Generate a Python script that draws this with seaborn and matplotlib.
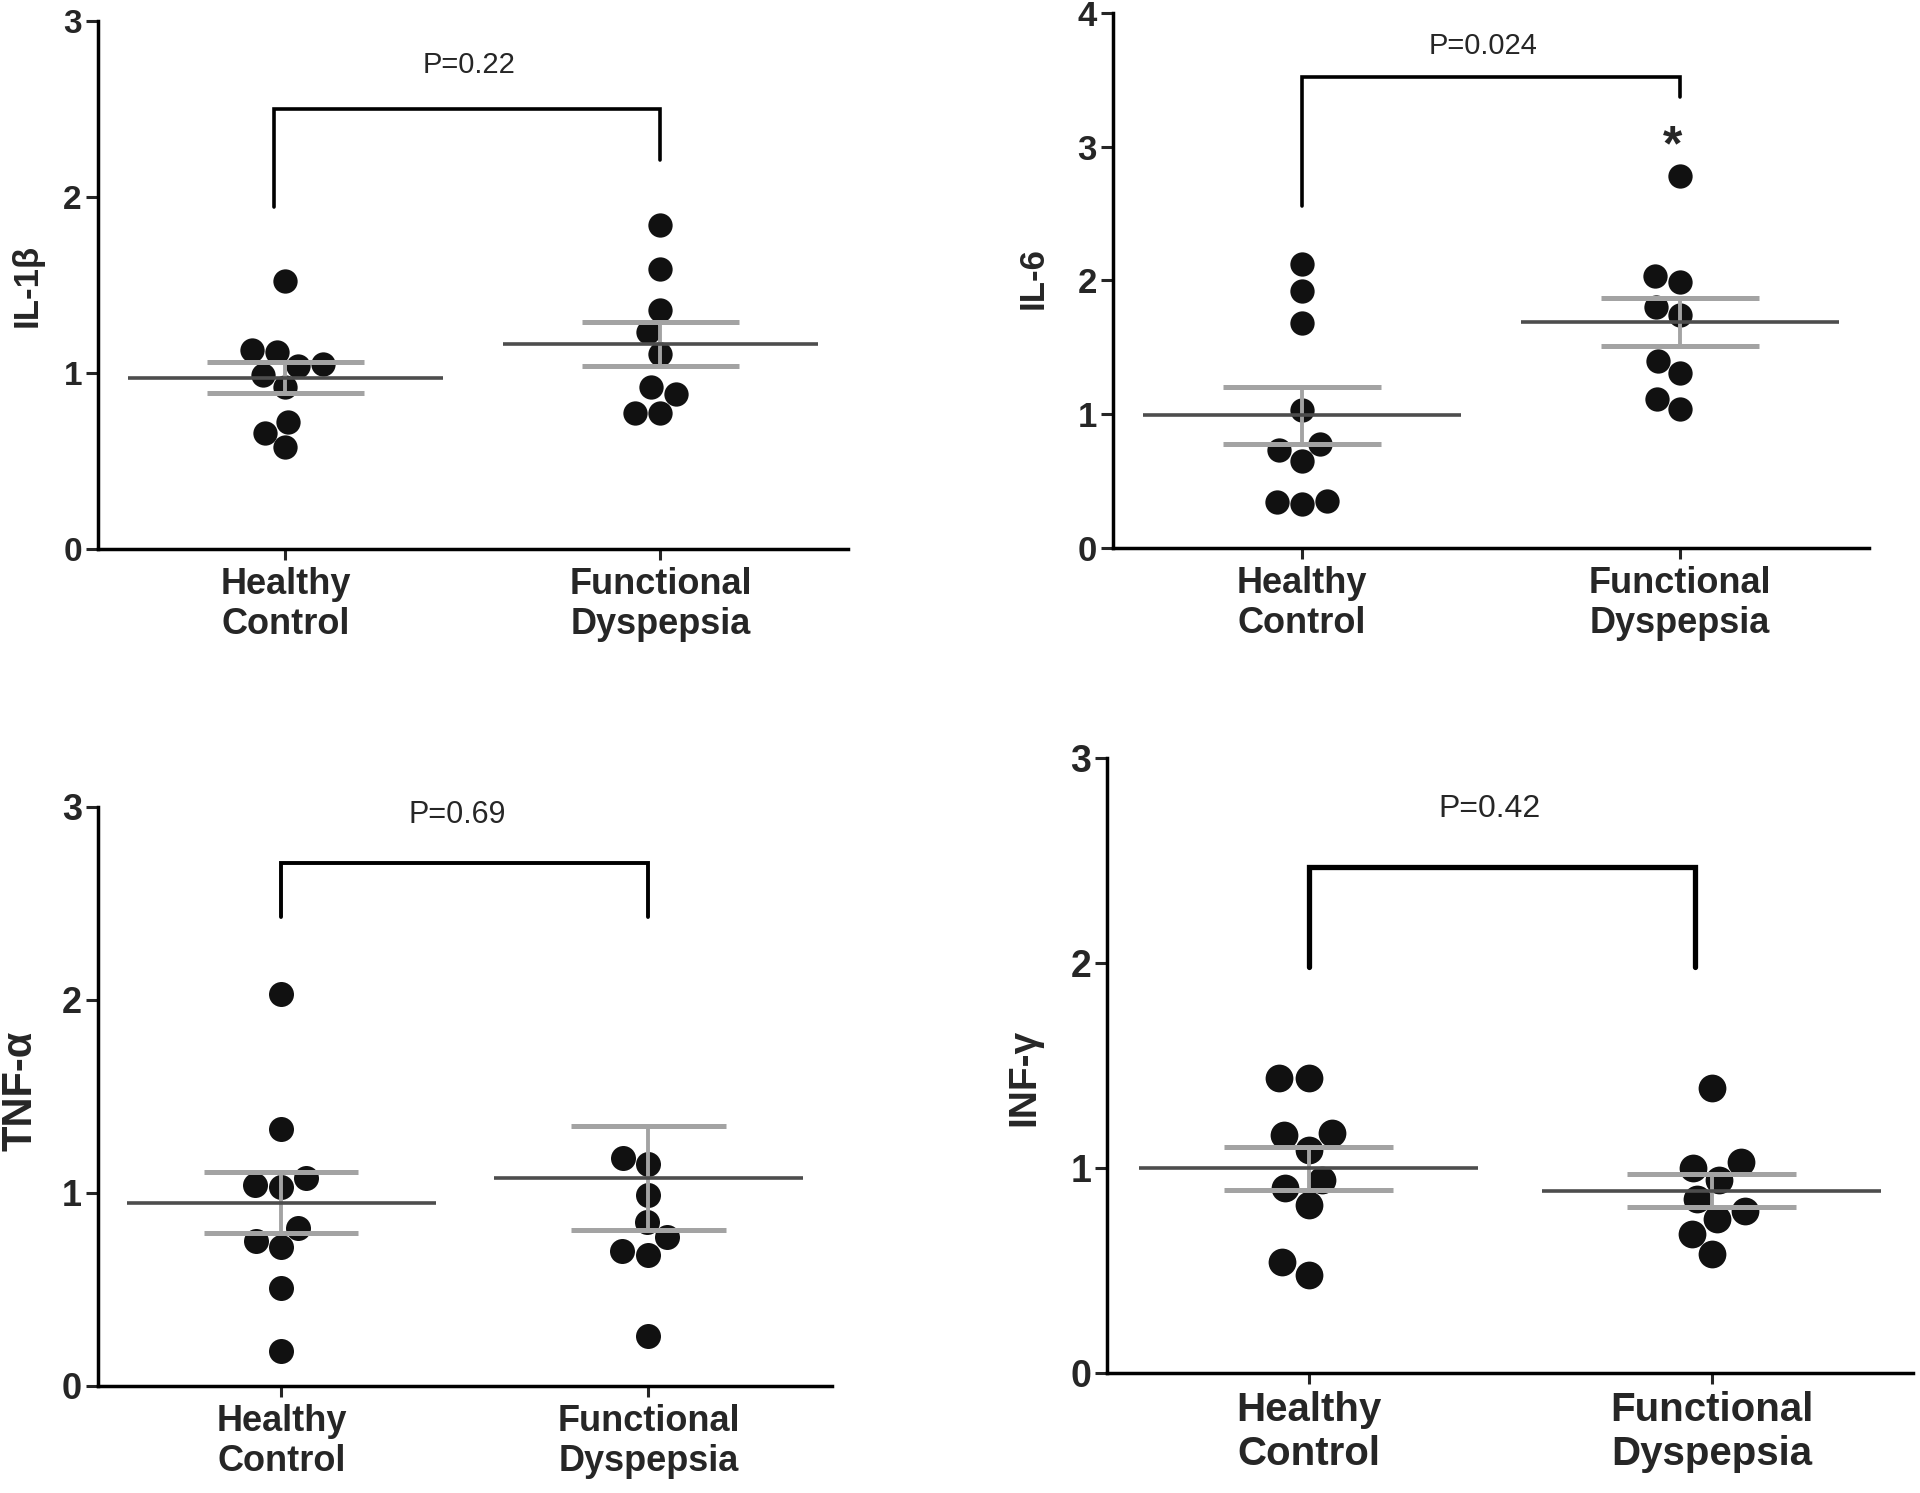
import numpy as np
import pandas as pd
import seaborn as sns
import matplotlib.pyplot as plt

sns.set_style("ticks")
plt.rcParams['font.family'] = ['Liberation Sans', 'DejaVu Sans']

groups = ['Healthy\nControl', 'Functional\nDyspepsia']

# values (one list per column)
il1b_hc = [1.52, 1.13, 1.12, 1.04, 1.05, 0.99, 0.92, 0.72, 0.66, 0.58]
il1b_fd = [1.84, 1.59, 1.36, 1.23, 1.11, 0.92, 0.88, 0.77, 0.77]
il6_hc = [2.12, 1.92, 1.68, 1.03, 0.73, 0.78, 0.65, 0.35, 0.34, 0.33]
il6_fd = [2.78, 2.03, 1.99, 1.74, 1.80, 1.40, 1.31, 1.11, 1.04]
tnf_hc = [2.03, 1.33, 1.08, 1.03, 1.04, 0.82, 0.75, 0.72, 0.51, 0.18]
tnf_fd = [3.10, 1.18, 1.15, 0.99, 0.85, 0.77, 0.70, 0.68, 0.26]  # 3.10 sits above the axis (clipped)
inf_hc = [1.44, 1.44, 1.17, 1.16, 1.09, 0.94, 0.90, 0.82, 0.54, 0.48]
inf_fd = [1.39, 1.03, 1.00, 0.94, 0.85, 0.79, 0.75, 0.68, 0.58]

ylabels = ['IL-1β', 'IL-6', 'TNF-α', 'INF-γ']
p_texts = ['P=0.22', 'P=0.024', 'P=0.69', 'P=0.42']
y_max = [3, 4, 3, 3]
series = [(il1b_hc, il1b_fd), (il6_hc, il6_fd), (tnf_hc, tnf_fd), (inf_hc, inf_fd)]

# layout / styling per panel
panels = [
    dict(rect=[0.0510, 0.6323, 0.3906, 0.3537], tick_fs=24, cat_fs=26, lab_fs=25, p_fs=21, ms=17.5,
         lab_xy=(-0.095, 0.50), br=(-0.03, 1.0, 2.5, 1.94, 2.21), p_xy=(0.49, 2.75), br_lw=2.6),
    dict(rect=[0.5797, 0.6330, 0.3938, 0.3583], tick_fs=25, cat_fs=26, lab_fs=25, p_fs=21, ms=17.5,
         lab_xy=(-0.106, 0.505), br=(0.0, 1.0, 3.52, 2.56, 3.37), p_xy=(0.48, 3.75), br_lw=2.6),
    dict(rect=[0.0510, 0.0717, 0.3823, 0.3878], tick_fs=26, cat_fs=26, lab_fs=30, p_fs=22, ms=18,
         lab_xy=(-0.106, 0.51), br=(0.0, 1.0, 2.71, 2.43, 2.43), p_xy=(0.48, 2.96), br_lw=2.8),
    dict(rect=[0.5766, 0.0804, 0.4198, 0.4119], tick_fs=27, cat_fs=29, lab_fs=28, p_fs=23, ms=20,
         lab_xy=(-0.103, 0.48), br=(0.0, 0.96, 2.47, 1.98, 1.98), p_xy=(0.45, 2.75), br_lw=3.8),
]

fig = plt.figure(figsize=(19.2, 14.93), dpi=100)

for k, cfg in enumerate(panels):
    ax = fig.add_axes(cfg['rect'])
    hc, fd = series[k]
    df = pd.DataFrame({'group': [groups[0]] * len(hc) + [groups[1]] * len(fd),
                       'value': hc + fd})

    sns.swarmplot(data=df, x='group', y='value', order=groups, color='#111111',
                  size=cfg['ms'], linewidth=0, ax=ax, zorder=2)

    # mean line and SEM bars
    for i, g in enumerate(groups):
        vals = df.loc[df['group'] == g, 'value'].to_numpy()
        m = vals.mean()
        se = vals.std(ddof=1) / np.sqrt(len(vals))
        ax.hlines(m, i - 0.42, i + 0.42, color='#4d4d4d', lw=2.6, zorder=4)
        ax.hlines([m - se, m + se], i - 0.21, i + 0.21, color='#a3a3a3', lw=3.6, zorder=3)
        ax.vlines(i, m - se, m + se, color='#a3a3a3', lw=2.8, zorder=3)

    # significance bracket
    x0, x1, top, yl, yr = cfg['br']
    ax.plot([x0, x0, x1, x1], [yl, top, top, yr], color='black', lw=cfg['br_lw'],
            solid_joinstyle='miter', zorder=3)
    ax.text(cfg['p_xy'][0], cfg['p_xy'][1], p_texts[k], ha='center', va='center',
            fontsize=cfg['p_fs'])
    if k == 1:
        ax.text(0.98, 2.9, '*', ha='center', va='baseline', fontsize=36, fontweight='bold')

    ax.set_xlim(-0.5, 1.5)
    ax.set_ylim(0, y_max[k])
    ax.set_yticks(range(y_max[k] + 1))
    ax.set_xlabel('')
    ax.set_ylabel(ylabels[k], fontsize=cfg['lab_fs'], fontweight='bold', va='center')
    ax.yaxis.set_label_coords(*cfg['lab_xy'])

    sns.despine(ax=ax)
    for side in ['left', 'bottom']:
        ax.spines[side].set_linewidth(2.5)
        ax.spines[side].set_color('black')
    ax.tick_params(axis='y', length=8.5, width=2.2, pad=3, labelsize=cfg['tick_fs'])
    ax.tick_params(axis='x', length=8, width=2.2, pad=5, labelsize=cfg['cat_fs'])
    for lab in ax.get_xticklabels() + ax.get_yticklabels():
        lab.set_fontweight('bold')

plt.savefig('out.png', dpi=100)
plt.close()
